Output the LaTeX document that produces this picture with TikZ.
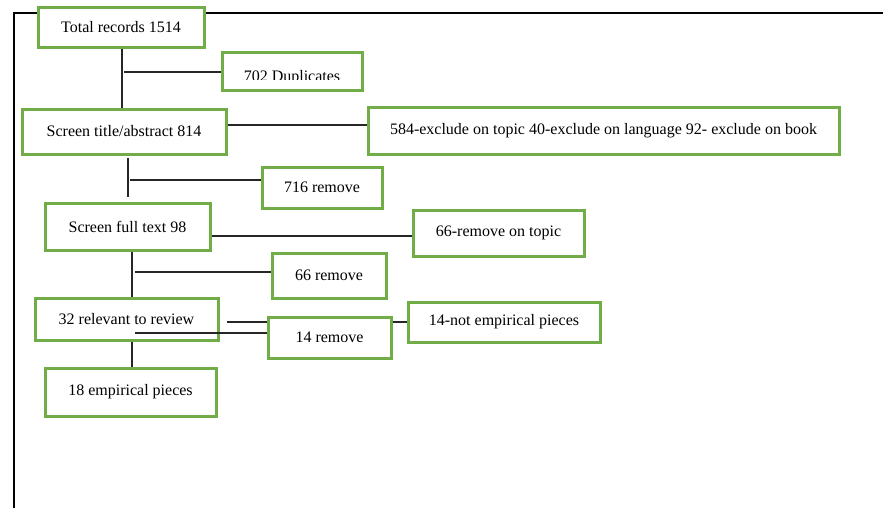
\documentclass[tikz,border=0pt]{standalone}
\usepackage{fontspec}
\setmainfont{Liberation Serif}
\definecolor{boxgreen}{RGB}{112,173,71}
\begin{document}
\begin{tikzpicture}[x=0.75pt,y=-0.75pt,
  stagebox/.style={draw=boxgreen,line width=2.25pt,fill=white,rectangle,inner sep=0pt,
    font=\fontsize{12}{14}\selectfont},
  link/.style={draw=black!85,line width=0.85pt},
  frameline/.style={draw=black,line width=1.6pt}]
\useasboundingbox (0,0) rectangle (883,508);
% outer frame (top and left edges only)
\draw[frameline] (14,508) -- (14,13) -- (883,13);

% flow boxes
\node[stagebox,minimum width=166*0.75pt,minimum height=40*0.75pt] (total) at (121,27) {Total records 1514};
\node[stagebox,minimum width=140*0.75pt,minimum height=38*0.75pt] (dup) at (292,71) {};
\begin{scope}
  \clip (222,52) rectangle (362,79.5);
  \node[font=\fontsize{12}{14}\selectfont,inner sep=0pt,anchor=base] (duptext) at (292,81) {702 Duplicates};
\end{scope}
\node[stagebox,minimum width=204*0.75pt,minimum height=45*0.75pt] (title) at (124,131.5) {Screen title/abstract 814};
\node[stagebox,minimum width=471*0.75pt,minimum height=47*0.75pt] (excl) at (603.5,130.5) {584-exclude on topic 40-exclude on language 92- exclude on book};
\node[stagebox,minimum width=120*0.75pt,minimum height=41*0.75pt] (r716) at (322,187.5) {716 remove};
\node[stagebox,minimum width=165*0.75pt,minimum height=47*0.75pt] (full) at (127.5,226.5) {Screen full text 98};
\node[stagebox,minimum width=171*0.75pt,minimum height=46*0.75pt] (topic) at (498.5,233) {66-remove on topic};
\node[stagebox,minimum width=114*0.75pt,minimum height=45*0.75pt] (r66) at (329,275.5) {66 remove};
\node[stagebox,minimum width=183*0.75pt,minimum height=42*0.75pt] (rel) at (126.5,319) {32 relevant to review};
\node[stagebox,minimum width=123*0.75pt,minimum height=41*0.75pt] (r14) at (329.5,337.5) {14 remove};
\node[stagebox,minimum width=192*0.75pt,minimum height=40*0.75pt] (notemp) at (504,322) {14-not empirical pieces};
\node[stagebox,minimum width=171*0.75pt,minimum height=48*0.75pt] (emp) at (130.5,392) {18 empirical pieces};

% free ends of the connectors
\coordinate (dupfoot) at (124,72);
\coordinate (s2top) at (128,158);
\coordinate (s2bot) at (128,197);
\coordinate (s2foot) at (130,180);
\coordinate (fullfoot) at (212,236);
\coordinate (s3foot) at (135,272);
\coordinate (relA) at (227,322);
\coordinate (relB) at (135,333);

% connectors
\draw[link] (total.south -| 122,0) -- (title.north -| 122,0);
\draw[link] (dupfoot) -- (dup.west |- dupfoot);
\draw[link] (title.east |- 0,125) -- (excl.west |- 0,125);
\draw[link] (s2top) -- (s2bot);
\draw[link] (s2foot) -- (r716.west |- s2foot);
\draw[link] (fullfoot) -- (topic.west |- fullfoot);
\draw[link] (full.south -| 132,0) -- (rel.north -| 132,0);
\draw[link] (s3foot) -- (r66.west |- s3foot);
\draw[link] (relA) -- (r14.west |- relA);
\draw[link] (relB) -- (r14.west |- relB);
\draw[link] (r14.east |- 0,322) -- (notemp.west |- 0,322);
\draw[link] (rel.south -| 132,0) -- (emp.north -| 132,0);
\end{tikzpicture}
\end{document}
